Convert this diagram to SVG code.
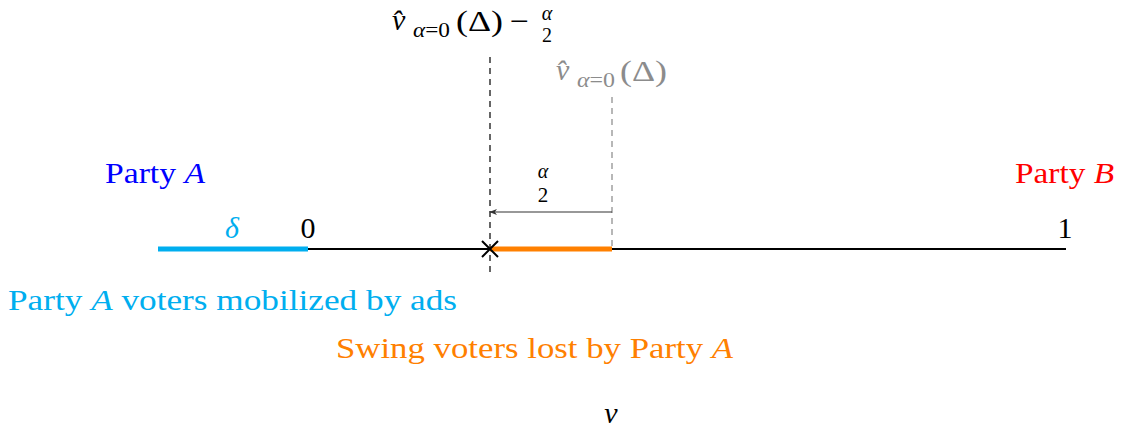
<svg xmlns="http://www.w3.org/2000/svg" width="1124" height="434" viewBox="0 0 1124 434">
<style>
text{font-family:"Liberation Serif","DejaVu Serif",serif;}
.t{font-size:30px;}
.it{font-style:italic;}
.sub{font-size:20px;font-style:italic;}
.gray{fill:#8c8c8c;}
</style>
<defs>
<marker id="ah" viewBox="0 0 10 10" refX="9" refY="5" markerWidth="8" markerHeight="8" orient="auto-start-reverse" markerUnits="userSpaceOnUse">
<path d="M0,1 L10,5 L0,9 L3,5 Z" fill="#333"/>
</marker>
</defs>
<rect width="1124" height="434" fill="#fff"/>
<g id="connectors">
<line x1="308" y1="249" x2="1066" y2="249" stroke="#000" stroke-width="2"/>
<line x1="158" y1="249" x2="308" y2="249" stroke="#00aeef" stroke-width="5"/>
<line x1="490" y1="249" x2="612" y2="249" stroke="#ff8000" stroke-width="5"/>
<line x1="490" y1="57" x2="490" y2="274" stroke="#000" stroke-width="1.2" stroke-dasharray="6,5"/>
<line x1="612" y1="97" x2="612" y2="249" stroke="#888" stroke-width="1.2" stroke-dasharray="6,5"/>
<line x1="612" y1="212" x2="490" y2="212" stroke="#333" stroke-width="1.2" marker-end="url(#ah)"/>
<path d="M482,241 L498,257 M498,241 L482,257" stroke="#000" stroke-width="2"/>
</g>
<g id="label-top">
<text x="392" y="30" class="t it">v&#x302;</text>
<text x="413" y="37" class="sub" textLength="37" lengthAdjust="spacingAndGlyphs">α<tspan font-style="normal">=0</tspan></text>
<text x="456" y="31" class="t" textLength="47" lengthAdjust="spacingAndGlyphs">(Δ)</text>
<text x="510" y="31" class="t" textLength="19" lengthAdjust="spacingAndGlyphs">−</text>
<text x="547" y="20" class="sub" text-anchor="middle">α</text>
<text x="547" y="42" font-size="20" text-anchor="middle">2</text>
</g>
<g id="label-gray" class="gray">
<text x="556" y="80" class="t it">v&#x302;</text>
<text x="577" y="87" class="sub" textLength="38" lengthAdjust="spacingAndGlyphs">α<tspan font-style="normal">=0</tspan></text>
<text x="620" y="81" class="t" textLength="47" lengthAdjust="spacingAndGlyphs">(Δ)</text>
</g>
<g id="label-alpha2">
<text x="543" y="178" class="sub" text-anchor="middle">α</text>
<text x="543" y="202" font-size="21" text-anchor="middle">2</text>
</g>
<g id="party-a"><text x="105" y="183" class="t" fill="#0000ff" textLength="100" lengthAdjust="spacingAndGlyphs">Party <tspan class="it">A</tspan></text></g>
<g id="party-b"><text x="1015" y="183" class="t" fill="#ff0000" textLength="99" lengthAdjust="spacingAndGlyphs">Party <tspan class="it">B</tspan></text></g>
<g id="delta"><text x="232" y="238" class="t it" fill="#00aeef" text-anchor="middle">δ</text></g>
<g id="zero"><text x="308" y="238" class="t" text-anchor="middle">0</text></g>
<g id="one"><text x="1065" y="238" class="t" text-anchor="middle">1</text></g>
<g id="mobilized"><text x="8" y="310" class="t" fill="#00aeef" textLength="449" lengthAdjust="spacingAndGlyphs">Party <tspan class="it">A</tspan> voters mobilized by ads</text></g>
<g id="swing"><text x="336" y="358" class="t" fill="#ff8000" textLength="397" lengthAdjust="spacingAndGlyphs">Swing voters lost by Party <tspan class="it">A</tspan></text></g>
<g id="v-label"><text x="611" y="423" class="t it" text-anchor="middle">v</text></g>
</svg>
